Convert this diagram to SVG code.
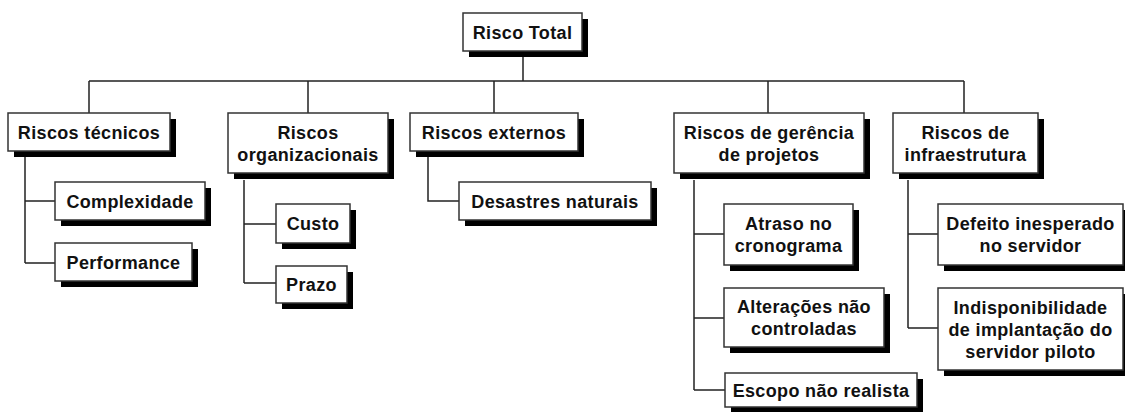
<svg xmlns="http://www.w3.org/2000/svg" width="1125" height="412" viewBox="0 0 1125 412">
<style>
.sh{fill:#000}
.bx{fill:#fff;stroke:#333;stroke-width:1.5}
.t{font-family:"Liberation Sans",Arial,sans-serif;font-weight:bold;font-size:18px;fill:#111;text-anchor:middle;letter-spacing:0.35px}
.c{fill:none;stroke:#222;stroke-width:1.5}
</style>
<rect width="1125" height="412" fill="#fff"/>
<g id="connectors" class="c">
<path d="M523 57V81M89 81H964M89 81V113M308 81V113M494 81V113M768 81V113M964 81V113"/>
<path d="M25 157V263M25 201H55M25 263H55"/>
<path d="M244 180V283M244 224H276M244 283H276"/>
<path d="M428 157V201H459"/>
<path d="M694 180V390M694 234H724M694 318H724M694 390H725"/>
<path d="M908 180V328M908 234H938M908 328H938"/>
</g>
<g id="risco-total"><rect class="sh" x="469" y="19" width="119" height="38"/><rect class="bx" x="463" y="13" width="119" height="38"/><text class="t" x="522.5" y="38.5">Risco Total</text></g>
<g id="riscos-tecnicos"><rect class="sh" x="14" y="119" width="162" height="38"/><rect class="bx" x="8" y="113" width="162" height="38"/><text class="t" x="89" y="138.5">Riscos técnicos</text></g>
<g id="riscos-organizacionais"><rect class="sh" x="234" y="119" width="160" height="60"/><rect class="bx" x="228" y="113" width="160" height="60"/><text class="t" x="308" y="138.5">Riscos</text><text class="t" x="308" y="160.5">organizacionais</text></g>
<g id="riscos-externos"><rect class="sh" x="416" y="119" width="168" height="38"/><rect class="bx" x="410" y="113" width="168" height="38"/><text class="t" x="494" y="138.5">Riscos externos</text></g>
<g id="riscos-gerencia"><rect class="sh" x="680" y="119" width="190" height="60"/><rect class="bx" x="674" y="113" width="190" height="60"/><text class="t" x="769" y="138.5">Riscos de gerência</text><text class="t" x="769" y="160.5">de projetos</text></g>
<g id="riscos-infra"><rect class="sh" x="899" y="119" width="145" height="60"/><rect class="bx" x="893" y="113" width="145" height="60"/><text class="t" x="965.5" y="138.5">Riscos de</text><text class="t" x="965.5" y="160.5">infraestrutura</text></g>
<g id="complexidade"><rect class="sh" x="61" y="188" width="150" height="38"/><rect class="bx" x="55" y="182" width="150" height="38"/><text class="t" x="130" y="207.5">Complexidade</text></g>
<g id="performance"><rect class="sh" x="61" y="249" width="137" height="38"/><rect class="bx" x="55" y="243" width="137" height="38"/><text class="t" x="123.5" y="268.5">Performance</text></g>
<g id="custo"><rect class="sh" x="282" y="210" width="74" height="39"/><rect class="bx" x="276" y="204" width="74" height="39"/><text class="t" x="313" y="230">Custo</text></g>
<g id="prazo"><rect class="sh" x="282" y="272" width="71" height="37"/><rect class="bx" x="276" y="266" width="71" height="37"/><text class="t" x="311.5" y="291">Prazo</text></g>
<g id="desastres"><rect class="sh" x="465" y="188" width="192" height="38"/><rect class="bx" x="459" y="182" width="192" height="38"/><text class="t" x="555" y="207.5">Desastres naturais</text></g>
<g id="atraso"><rect class="sh" x="730" y="210" width="129" height="61"/><rect class="bx" x="724" y="204" width="129" height="61"/><text class="t" x="788.5" y="229.5">Atraso no</text><text class="t" x="788.5" y="251.5">cronograma</text></g>
<g id="alteracoes"><rect class="sh" x="730" y="294" width="160" height="59"/><rect class="bx" x="724" y="288" width="160" height="59"/><text class="t" x="804" y="312.5">Alterações não</text><text class="t" x="804" y="334.5">controladas</text></g>
<g id="escopo"><rect class="sh" x="731" y="379" width="192" height="34"/><rect class="bx" x="725" y="373" width="192" height="34"/><text class="t" x="821" y="396.5">Escopo não realista</text></g>
<g id="defeito"><rect class="sh" x="944" y="210" width="185" height="61"/><rect class="bx" x="938" y="204" width="185" height="61"/><text class="t" x="1030.5" y="229.5">Defeito inesperado</text><text class="t" x="1030.5" y="251.5">no servidor</text></g>
<g id="indisponibilidade"><rect class="sh" x="944" y="294" width="185" height="82"/><rect class="bx" x="938" y="288" width="185" height="82"/><text class="t" x="1030.5" y="313.5">Indisponibilidade</text><text class="t" x="1030.5" y="335.5">de implantação do</text><text class="t" x="1030.5" y="357.5">servidor piloto</text></g>
</svg>
